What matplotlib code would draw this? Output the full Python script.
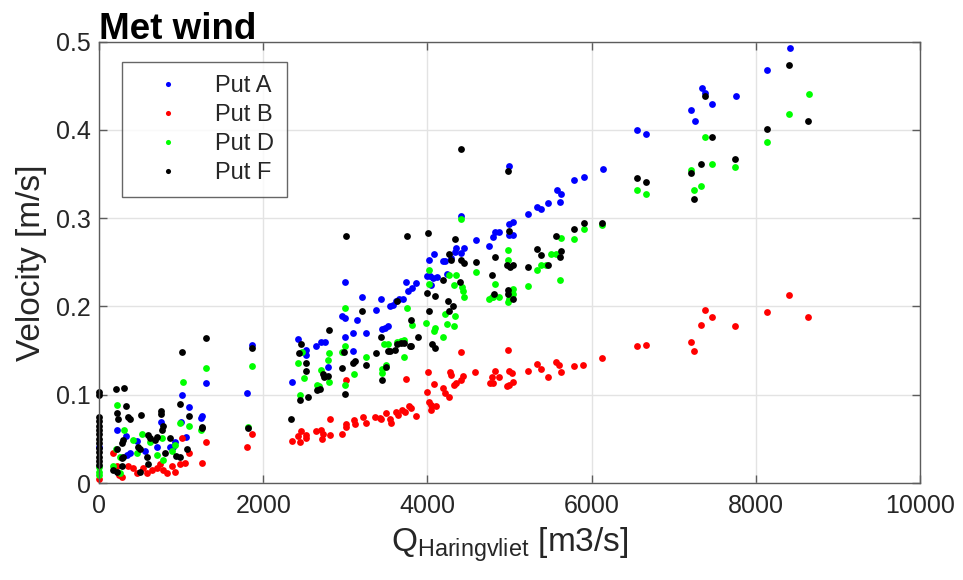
import matplotlib
matplotlib.use("Agg")
import matplotlib.pyplot as plt

plt.rcParams['font.family'] = ['Liberation Sans', 'DejaVu Sans']
plt.rcParams['mathtext.fontset'] = 'custom'
plt.rcParams['mathtext.rm'] = 'Liberation Sans'
plt.rcParams['mathtext.it'] = 'Liberation Sans:italic'

# Discharge Haringvliet [m3/s] and velocity [m/s] per measuring well
put_a_q = [0, 215, 328, 337, 377, 458, 560, 702, 754, 864, 904, 925, 994, 1006, 1054,
           1095, 1241, 1257, 1302, 1804, 1869, 2356, 2425, 2527, 2527, 2648, 2709, 2749,
           2790, 2960, 2991, 3001, 3001, 3088, 3099, 3140, 3206, 3257, 3370, 3437, 3447,
           3488, 3519, 3539, 3580, 3616, 3657, 3698, 3744, 3770, 3810, 3867, 3990, 4015,
           4036, 4046, 4072, 4082, 4118, 4190, 4220, 4236, 4282, 4338, 4348, 4412, 4415,
           4440, 4589, 4753, 4804, 4825, 4876, 4994, 4994, 4994, 5040, 5045, 5224, 5332,
           5383, 5475, 5578, 5619, 5629, 5788, 5905, 6136, 6556, 6663, 7217, 7258, 7345,
           7386, 7473, 7760, 8139, 8415]
put_a_v = [0.041, 0.060, 0.053, 0.032, 0.034, 0.048, 0.036, 0.041, 0.069, 0.041, 0.041,
           0.046, 0.069, 0.100, 0.052, 0.086, 0.074, 0.076, 0.113, 0.102, 0.156, 0.115,
           0.163, 0.151, 0.145, 0.155, 0.160, 0.160, 0.131, 0.189, 0.187, 0.228, 0.165,
           0.150, 0.170, 0.185, 0.211, 0.170, 0.196, 0.208, 0.174, 0.176, 0.178, 0.200,
           0.202, 0.206, 0.209, 0.209, 0.228, 0.218, 0.221, 0.227, 0.235, 0.253, 0.234,
           0.224, 0.232, 0.260, 0.233, 0.251, 0.252, 0.237, 0.255, 0.262, 0.266, 0.261,
           0.302, 0.266, 0.275, 0.269, 0.279, 0.284, 0.284, 0.281, 0.293, 0.359, 0.296,
           0.281, 0.305, 0.313, 0.310, 0.317, 0.332, 0.318, 0.328, 0.343, 0.347, 0.356,
           0.400, 0.395, 0.423, 0.410, 0.448, 0.442, 0.429, 0.439, 0.468, 0.493]

put_b_q = [0, 174, 215, 247, 276, 357, 418, 458, 539, 580, 641, 702, 742, 782, 823, 884,
           925, 985, 1006, 1046, 1095, 1249, 1302, 1804, 1865, 2352, 2425, 2454, 2466,
           2518, 2527, 2648, 2709, 2721, 2729, 2810, 2810, 2964, 3005, 3013, 3013, 3102,
           3114, 3215, 3256, 3358, 3418, 3430, 3491, 3540, 3561, 3613, 3641, 3694, 3723,
           3743, 3775, 3796, 3865, 3998, 4011, 4018, 4047, 4047, 4084, 4108, 4189, 4217,
           4258, 4270, 4291, 4319, 4343, 4412, 4412, 4432, 4582, 4757, 4785, 4797, 4822,
           4878, 4972, 4980, 4992, 5000, 5033, 5040, 5223, 5333, 5381, 5466, 5568, 5608,
           5629, 5791, 5900, 6128, 6553, 6659, 7214, 7251, 7336, 7381, 7466, 7753, 8139,
           8406, 8637]
put_b_v = [0.005, 0.034, 0.019, 0.009, 0.007, 0.019, 0.017, 0.011, 0.017, 0.011, 0.015,
           0.017, 0.022, 0.015, 0.011, 0.019, 0.013, 0.022, 0.051, 0.023, 0.034, 0.023,
           0.047, 0.041, 0.055, 0.048, 0.053, 0.046, 0.059, 0.054, 0.051, 0.059, 0.060,
           0.050, 0.056, 0.054, 0.072, 0.056, 0.067, 0.064, 0.117, 0.071, 0.067, 0.075,
           0.068, 0.075, 0.074, 0.073, 0.079, 0.073, 0.068, 0.080, 0.077, 0.083, 0.081,
           0.118, 0.087, 0.085, 0.076, 0.103, 0.126, 0.092, 0.088, 0.083, 0.112, 0.087,
           0.108, 0.102, 0.097, 0.126, 0.122, 0.111, 0.113, 0.117, 0.149, 0.121, 0.126,
           0.113, 0.120, 0.113, 0.127, 0.120, 0.110, 0.151, 0.127, 0.111, 0.125, 0.114,
           0.127, 0.135, 0.129, 0.120, 0.137, 0.134, 0.126, 0.133, 0.134, 0.142, 0.155,
           0.156, 0.160, 0.150, 0.179, 0.196, 0.188, 0.178, 0.194, 0.213, 0.188]

put_d_q = [0, 0, 0, 174, 207, 215, 255, 255, 304, 409, 458, 519, 620, 702, 763, 774, 884,
           925, 985, 1018, 1095, 1241, 1302, 1809, 1869, 2425, 2445, 2474, 2500, 2653,
           2678, 2704, 2786, 2801, 2806, 2960, 3001, 3001, 3001, 3104, 3257, 3442, 3442,
           3473, 3493, 3524, 3626, 3677, 3713, 3713, 3749, 3810, 3985, 4015, 4015, 4077,
           4097, 4190, 4210, 4236, 4261, 4323, 4328, 4338, 4343, 4415, 4425, 4435, 4440,
           4589, 4753, 4789, 4804, 4820, 4876, 4978, 4978, 4988, 4994, 5040, 5045, 5224,
           5332, 5383, 5444, 5511, 5572, 5620, 5629, 5791, 5904, 6128, 6553, 6659, 7214,
           7251, 7336, 7381, 7466, 7753, 8139, 8406, 8651]
put_d_v = [0.009, 0.013, 0.018, 0.019, 0.039, 0.088, 0.011, 0.030, 0.060, 0.049, 0.034,
           0.056, 0.046, 0.032, 0.051, 0.026, 0.036, 0.043, 0.068, 0.114, 0.065, 0.060,
           0.130, 0.064, 0.133, 0.136, 0.100, 0.149, 0.119, 0.111, 0.110, 0.128, 0.139,
           0.147, 0.114, 0.149, 0.198, 0.155, 0.111, 0.123, 0.143, 0.129, 0.125, 0.157,
           0.134, 0.157, 0.160, 0.161, 0.162, 0.143, 0.198, 0.179, 0.181, 0.241, 0.225,
           0.172, 0.176, 0.166, 0.192, 0.180, 0.236, 0.178, 0.224, 0.189, 0.236, 0.299,
           0.222, 0.218, 0.211, 0.239, 0.209, 0.211, 0.211, 0.226, 0.211, 0.264, 0.205,
           0.253, 0.209, 0.214, 0.220, 0.223, 0.241, 0.247, 0.247, 0.260, 0.259, 0.230,
           0.278, 0.277, 0.288, 0.292, 0.332, 0.327, 0.355, 0.332, 0.336, 0.392, 0.362,
           0.358, 0.386, 0.418, 0.441]

put_f_q = [0, 0, 0, 0, 0, 0, 0, 0, 0, 0, 0, 0, 0, 0, 174, 207, 215, 215, 215, 235, 276,
           276, 276, 296, 296, 304, 328, 357, 377, 478, 499, 499, 507, 580, 600, 600, 620,
           681, 702, 750, 750, 763, 782, 803, 864, 933, 985, 985, 1010, 1066, 1099, 1249,
           1257, 1298, 1809, 1865, 2344, 2437, 2445, 2457, 2518, 2518, 2546, 2653, 2689,
           2725, 2745, 2786, 2801, 2960, 2986, 3001, 3011, 3099, 3114, 3206, 3257, 3370,
           3437, 3452, 3493, 3524, 3549, 3600, 3626, 3631, 3677, 3718, 3749, 3790, 3805,
           3805, 3882, 3995, 4010, 4020, 4051, 4087, 4092, 4189, 4256, 4261, 4266, 4282,
           4318, 4333, 4394, 4410, 4415, 4446, 4589, 4789, 4814, 4820, 4973, 4978, 4978,
           4978, 4994, 5009, 5045, 5045, 5224, 5332, 5388, 5470, 5572, 5620, 5629, 5791,
           5904, 6128, 6553, 6659, 7214, 7251, 7336, 7381, 7466, 7753, 8139, 8406, 8637]
put_f_v = [0.1035, 0.0997, 0.075, 0.070, 0.065, 0.060, 0.055, 0.050, 0.045, 0.040, 0.035,
           0.030, 0.025, 0.020, 0.015, 0.107, 0.079, 0.039, 0.013, 0.073, 0.045, 0.028,
           0.019, 0.049, 0.030, 0.108, 0.087, 0.075, 0.073, 0.041, 0.039, 0.013, 0.077,
           0.030, 0.054, 0.022, 0.051, 0.049, 0.052, 0.082, 0.078, 0.060, 0.065, 0.034,
           0.051, 0.031, 0.089, 0.030, 0.149, 0.039, 0.076, 0.064, 0.062, 0.164, 0.062,
           0.153, 0.073, 0.147, 0.094, 0.158, 0.136, 0.127, 0.097, 0.105, 0.107, 0.123,
           0.120, 0.121, 0.173, 0.130, 0.149, 0.101, 0.280, 0.136, 0.138, 0.195, 0.134,
           0.147, 0.165, 0.117, 0.131, 0.150, 0.150, 0.151, 0.206, 0.158, 0.159, 0.159,
           0.280, 0.155, 0.155, 0.185, 0.165, 0.215, 0.283, 0.195, 0.157, 0.153, 0.212,
           0.230, 0.206, 0.195, 0.259, 0.253, 0.201, 0.276, 0.228, 0.253, 0.378, 0.249,
           0.250, 0.236, 0.214, 0.256, 0.247, 0.219, 0.214, 0.353, 0.286, 0.245, 0.247,
           0.208, 0.245, 0.265, 0.258, 0.247, 0.280, 0.256, 0.263, 0.288, 0.295, 0.295,
           0.346, 0.341, 0.351, 0.322, 0.362, 0.439, 0.392, 0.367, 0.401, 0.474, 0.410]

series = [
    ("Put A", put_a_q, put_a_v, (0, 0, 1)),
    ("Put B", put_b_q, put_b_v, (1, 0, 0)),
    ("Put D", put_d_q, put_d_v, (0, 1, 0)),
    ("Put F", put_f_q, put_f_v, (0, 0, 0)),
]

x_ticks = [0, 2000, 4000, 6000, 8000, 10000]
y_ticks = [0, 0.1, 0.2, 0.3, 0.4, 0.5]
y_tick_labels = ["0", "0.1", "0.2", "0.3", "0.4", "0.5"]

axis_color = "#262626"

fig = plt.figure(figsize=(9.63, 5.8), dpi=100)
ax = fig.add_axes([0.1028, 0.1672, 0.8525, 0.7609])

for name, q, v, col in series:
    ax.plot(q, v, linestyle="none", marker="o", markersize=4.9,
            markeredgewidth=0, color=col, label=name, clip_on=False)

ax.set_xlim(0, 10000)
ax.set_ylim(0, 0.5)
ax.set_xticks(x_ticks)
ax.set_yticks(y_ticks)
ax.set_yticklabels(y_tick_labels)
ax.grid(True, color="#e3e3e3", linewidth=1.0)
ax.set_axisbelow(True)

for s in ax.spines.values():
    s.set_color("#5c5c5c")
    s.set_linewidth(1.0)

ax.tick_params(direction="in", top=True, right=True, length=6, width=1,
               color="#5c5c5c", labelcolor=axis_color, labelsize=18, pad=8)
ax.tick_params(axis="y", pad=6)

ax.set_xlabel(r"Q$_{\mathrm{Haringvliet}}$ [m3/s]", fontsize=24, color=axis_color, labelpad=5)
ax.set_ylabel("Velocity [m/s]", fontsize=24, color=axis_color, labelpad=6)
ax.set_title("Met wind", loc="left", fontweight="bold", fontsize=26.5, pad=2)

leg = ax.legend(loc="upper left", bbox_to_anchor=(0.028, 0.954), borderaxespad=0,
                fontsize=17, frameon=True, fancybox=False, edgecolor="#404040",
                handlelength=2.8, handletextpad=0.6, borderpad=0.55, labelspacing=0.3,
                markerscale=0.75)
leg.get_frame().set_linewidth(1.0)
for t in leg.get_texts():
    t.set_color(axis_color)

fig.savefig("out.png", dpi=100)
